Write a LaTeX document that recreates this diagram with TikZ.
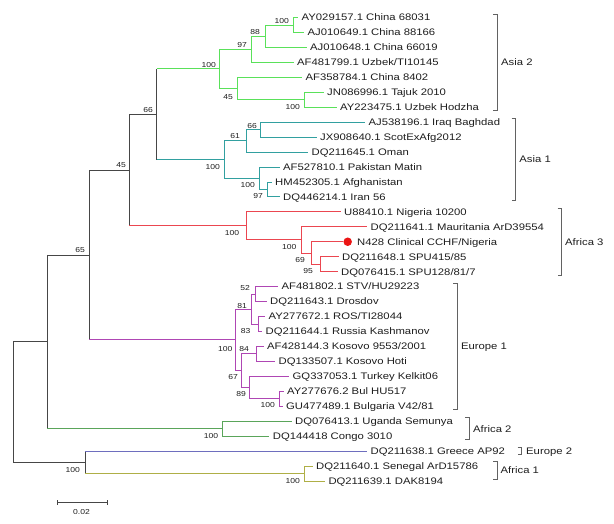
\documentclass[tikz,border=0pt]{standalone}
\usepackage{fontspec}
\setmainfont{Liberation Sans}[FakeStretch=1.19]
\definecolor{cbb}{RGB}{70,70,70}
\definecolor{txt}{RGB}{30,30,30}
\definecolor{ca2}{RGB}{90,225,90}
\definecolor{ca1}{RGB}{50,160,160}
\definecolor{caf3}{RGB}{235,70,80}
\definecolor{ceu1}{RGB}{175,70,180}
\definecolor{caf2}{RGB}{90,165,90}
\definecolor{ceu2}{RGB}{110,110,190}
\definecolor{caf1}{RGB}{175,175,70}
\definecolor{dotred}{RGB}{235,20,20}
\begin{document}
\begin{tikzpicture}[x=1pt,y=-1pt,
  leaf/.style={anchor=west, inner sep=0pt, font=\fontsize{9.5}{10}\selectfont, text height=6.8pt, text depth=0pt, text=txt},
  bs/.style={anchor=east, inner sep=0pt, font=\fontsize{7.2}{8}\selectfont, text height=5.2pt, text depth=0pt, text=txt},
  ln/.style={line width=0.8pt},
  bbl/.style={ln, draw=cbb},
  a2/.style={ln, draw=ca2},
  a1/.style={ln, draw=ca1},
  f3/.style={ln, draw=caf3},
  e1/.style={ln, draw=ceu1},
  f2/.style={ln, draw=caf2},
  e2/.style={ln, draw=ceu2},
  f1/.style={ln, draw=caf1},
  brk/.style={line width=0.8pt, draw=cbb!85}
]
\useasboundingbox (0,0) rectangle (614,524);

% ---------- leaves ----------
\node[leaf] (l0) at (301.5,17.5) {AY029157.1 China 68031};
\node[leaf] (l1) at (307.5,32.45) {AJ010649.1 China 88166};
\node[leaf] (l2) at (310,47.4) {AJ010648.1 China 66019};
\node[leaf] (l3) at (297,62.35) {AF481799.1 Uzbek/TI10145};
\node[leaf] (l4) at (305.5,77.3) {AF358784.1 China 8402};
\node[leaf] (l5) at (327,92.25) {JN086996.1 Tajuk 2010};
\node[leaf] (l6) at (340,107.2) {AY223475.1 Uzbek Hodzha};
\node[leaf] (l7) at (368.5,122.15) {AJ538196.1 Iraq Baghdad};
\node[leaf] (l8) at (320,137.1) {JX908640.1 ScotExAfg2012};
\node[leaf] (l9) at (311.5,152.05) {DQ211645.1 Oman};
\node[leaf] (l10) at (283,167) {AF527810.1 Pakistan Matin};
\node[leaf] (l11) at (275,181.95) {HM452305.1 Afghanistan};
\node[leaf] (l12) at (283,196.9) {DQ446214.1 Iran 56};
\node[leaf] (l13) at (344,211.85) {U88410.1 Nigeria 10200};
\node[leaf] (l14) at (370.5,226.8) {DQ211641.1 Mauritania ArD39554};
\node[leaf] (l15) at (357,241.75) {N428 Clinical CCHF/Nigeria};
\node[leaf] (l16) at (342,256.7) {DQ211648.1 SPU415/85};
\node[leaf] (l17) at (341,271.65) {DQ076415.1 SPU128/81/7};
\node[leaf] (l18) at (281.5,286.6) {AF481802.1 STV/HU29223};
\node[leaf] (l19) at (270,301.55) {DQ211643.1 Drosdov};
\node[leaf] (l20) at (268.5,316.5) {AY277672.1 ROS/TI28044};
\node[leaf] (l21) at (265.5,331.45) {DQ211644.1 Russia Kashmanov};
\node[leaf] (l22) at (267,346.4) {AF428144.3 Kosovo 9553/2001};
\node[leaf] (l23) at (278.5,361.35) {DQ133507.1 Kosovo Hoti};
\node[leaf] (l24) at (292.5,376.3) {GQ337053.1 Turkey Kelkit06};
\node[leaf] (l25) at (287,391.25) {AY277676.2 Bul HU517};
\node[leaf] (l26) at (286,406.2) {GU477489.1 Bulgaria V42/81};
\node[leaf] (l27) at (295,421.15) {DQ076413.1 Uganda Semunya};
\node[leaf] (l28) at (272.7,436.1) {DQ144418 Congo 3010};
\node[leaf] (l29) at (370.5,451.05) {DQ211638.1 Greece AP92};
\node[leaf] (l30) at (316,466) {DQ211640.1 Senegal ArD15786};
\node[leaf] (l31) at (328.3,480.95) {DQ211639.1 DAK8194};

\node[circle, fill=dotred, inner sep=0pt, minimum size=8.5pt] (dot) at (347.7,241.75) {};

% ---------- internal nodes ----------
\coordinate (nA) at (293,24.975);
\coordinate (n88) at (265,36.19);
\coordinate (n97) at (251.7,49.27);
\coordinate (nC) at (304,99.73);
\coordinate (n45b) at (237,88.51);
\coordinate (nAsia2) at (219,68.89);
\coordinate (n66a) at (260.7,129.63);
\coordinate (n61) at (246,140.84);
\coordinate (n97b) at (267.3,189.43);
\coordinate (n100d) at (259.3,178.21);
\coordinate (nAsia1) at (224,159.53);
\coordinate (n66t) at (156.7,114.21);
\coordinate (n95) at (320,264.18);
\coordinate (n69) at (311,252.96);
\coordinate (n100e) at (301.7,239.88);
\coordinate (nAfr3) at (246.7,225.87);
\coordinate (n45t) at (129.3,170.04);
\coordinate (n52) at (255,294.08);
\coordinate (n83) at (258.5,323.98);
\coordinate (n81) at (251.5,309.03);
\coordinate (n84) at (256,353.88);
\coordinate (n100f) at (279.5,398.73);
\coordinate (n89) at (249.5,387.51);
\coordinate (n67) at (241,370.70);
\coordinate (nEur1) at (235,339.87);
\coordinate (n65) at (89.3,254.96);
\coordinate (n100g) at (222.7,428.63);
\coordinate (nU) at (47.3,341.79);
\coordinate (n100h) at (304,473.48);
\coordinate (nE) at (85,462.26);
\coordinate (nR) at (13.3,402.03);

% ---------- Asia 2 ----------
\draw[a2] (nA) |- ([xshift=-3.5pt]l0.west);
\draw[a2] (nA) |- ([xshift=-3.5pt]l1.west);
\draw[a2] (n88) |- (nA);
\draw[a2] (n88) |- ([xshift=-3.5pt]l2.west);
\draw[a2] (n97) |- (n88);
\draw[a2] (n97) |- ([xshift=-3.5pt]l3.west);
\draw[a2] (nC) |- ([xshift=-3.5pt]l5.west);
\draw[a2] (nC) |- ([xshift=-3.5pt]l6.west);
\draw[a2] (n45b) |- ([xshift=-3.5pt]l4.west);
\draw[a2] (n45b) |- (nC);
\draw[a2] (nAsia2) |- (n97);
\draw[a2] (nAsia2) |- (n45b);
% ---------- Asia 1 ----------
\draw[a1] (n66a) |- ([xshift=-3.5pt]l7.west);
\draw[a1] (n66a) |- ([xshift=-3.5pt]l8.west);
\draw[a1] (n61) |- (n66a);
\draw[a1] (n61) |- ([xshift=-3.5pt]l9.west);
\draw[a1] (n97b) |- ([xshift=-3.5pt]l11.west);
\draw[a1] (n97b) |- ([xshift=-3.5pt]l12.west);
\draw[a1] (n100d) |- ([xshift=-3.5pt]l10.west);
\draw[a1] (n100d) |- (n97b);
\draw[a1] (nAsia1) |- (n61);
\draw[a1] (nAsia1) |- (n100d);
% backbone node 66
\draw[bbl] (n66t |- nAsia2) -- (n66t |- nAsia1);
\draw[a2] (n66t |- nAsia2) -- (nAsia2);
\draw[a1] (n66t |- nAsia1) -- (nAsia1);
% ---------- Africa 3 ----------
\draw[f3] (n95) |- ([xshift=-3.5pt]l16.west);
\draw[f3] (n95) |- ([xshift=-3.5pt]l17.west);
\draw[f3] (n69) |- (dot.west);
\draw[f3] (n69) |- (n95);
\draw[f3] (n100e) |- ([xshift=-3.5pt]l14.west);
\draw[f3] (n100e) |- (n69);
\draw[f3] (nAfr3) |- ([xshift=-3.5pt]l13.west);
\draw[f3] (nAfr3) |- (n100e);
% backbone node 45
\draw[bbl] (n45t |- n66t) -- (n45t |- nAfr3);
\draw[bbl] (n45t |- n66t) -- (n66t);
\draw[f3] (n45t |- nAfr3) -- (nAfr3);
% ---------- Europe 1 ----------
\draw[e1] (n52) |- ([xshift=-3.5pt]l18.west);
\draw[e1] (n52) |- ([xshift=-3.5pt]l19.west);
\draw[e1] (n83) |- ([xshift=-3.5pt]l20.west);
\draw[e1] (n83) |- ([xshift=-3.5pt]l21.west);
\draw[e1] (n81) |- (n52);
\draw[e1] (n81) |- (n83);
\draw[e1] (n84) |- ([xshift=-3.5pt]l22.west);
\draw[e1] (n84) |- ([xshift=-3.5pt]l23.west);
\draw[e1] (n100f) |- ([xshift=-3.5pt]l25.west);
\draw[e1] (n100f) |- ([xshift=-3.5pt]l26.west);
\draw[e1] (n89) |- ([xshift=-3.5pt]l24.west);
\draw[e1] (n89) |- (n100f);
\draw[e1] (n67) |- (n84);
\draw[e1] (n67) |- (n89);
\draw[e1] (nEur1) |- (n81);
\draw[e1] (nEur1) |- (n67);
% backbone node 65
\draw[bbl] (n65 |- n45t) -- (n65 |- nEur1);
\draw[bbl] (n65 |- n45t) -- (n45t);
\draw[e1] (n65 |- nEur1) -- (nEur1);
% ---------- Africa 2 ----------
\draw[f2] (n100g) |- ([xshift=-3.5pt]l27.west);
\draw[f2] (n100g) |- ([xshift=-3.5pt]l28.west);
\draw[bbl] (nU |- n65) -- (nU |- n100g);
\draw[bbl] (nU |- n65) -- (n65);
\draw[f2] (nU |- n100g) -- (n100g);
% ---------- Europe 2 / Africa 1 ----------
\draw[f1] (n100h) |- ([xshift=-3.5pt]l30.west);
\draw[f1] (n100h) |- ([xshift=-3.5pt]l31.west);
\draw[bbl] (nE |- l29.west) -- (nE |- n100h);
\draw[e2] (nE |- l29.west) -- ([xshift=-3.5pt]l29.west);
\draw[f1] (nE |- n100h) -- (n100h);
% ---------- root ----------
\draw[bbl] (nR |- nU) -- (nR |- nE);
\draw[bbl] (nR |- nU) -- (nU);
\draw[bbl] (nR |- nE) -- (nE);

% ---------- bootstrap values ----------
\node[bs] (b1) at (289,21) {100};
\node[bs] (b2) at (260,31.7) {88};
\node[bs] (b3) at (247,45) {97};
\node[bs] (b4) at (216,65) {100};
\node[bs] (b5) at (233,96.7) {45};
\node[bs] (b6) at (300,107.3) {100};
\node[bs] (b7) at (153,110) {66};
\node[bs] (b8) at (126,165) {45};
\node[bs] (b9) at (85,250) {65};
\node[bs] (b10) at (257,126) {66};
\node[bs] (b11) at (240,136) {61};
\node[bs] (b12) at (220,166.7) {100};
\node[bs] (b13) at (255,185) {100};
\node[bs] (b14) at (263,195.7) {97};
\node[bs] (b15) at (239.3,233.3) {100};
\node[bs] (b16) at (296.7,246.7) {100};
\node[bs] (b17) at (305,260) {69};
\node[bs] (b18) at (313,270.7) {95};
\node[bs] (b19) at (250,288) {52};
\node[bs] (b20) at (247,306) {81};
\node[bs] (b21) at (250.7,330.7) {83};
\node[bs] (b22) at (232.7,348.7) {100};
\node[bs] (b23) at (249,348.7) {84};
\node[bs] (b24) at (238,377.3) {67};
\node[bs] (b25) at (246,394) {89};
\node[bs] (b26) at (275,405) {100};
\node[bs] (b27) at (218.3,436) {100};
\node[bs] (b28) at (80,470) {100};
\node[bs] (b29) at (300,481) {100};

% ---------- clade brackets ----------
\draw[brk] (493.3,14) -- (497.3,14) -- (497.3,110.7) -- (493.3,110.7);
\node[leaf] (c1) at (501,62.3) {Asia 2};
\draw[brk] (511.7,118.7) -- (515.7,118.7) -- (515.7,200.4) -- (511.7,200.4);
\node[leaf] (c2) at (519.2,159.5) {Asia 1};
\draw[brk] (557.7,208.3) -- (561.7,208.3) -- (561.7,275.1) -- (557.7,275.1);
\node[leaf] (c3) at (565,241.7) {Africa 3};
\draw[brk] (453.3,283.1) -- (457.3,283.1) -- (457.3,409.7) -- (453.3,409.7);
\node[leaf] (c4) at (460.8,346.4) {Europe 1};
\draw[brk] (465.3,417.6) -- (469.3,417.6) -- (469.3,439.6) -- (465.3,439.6);
\node[leaf] (c5) at (473,428.6) {Africa 2};
\draw[brk] (517.7,447.5) -- (521.7,447.5) -- (521.7,454.6) -- (517.7,454.6);
\node[leaf] (c6) at (526,451.05) {Europe 2};
\draw[brk] (493.3,461) -- (497.3,461) -- (497.3,479) -- (493.3,479);
\node[leaf] (c7) at (500.5,470) {Africa 1};

% ---------- scale bar ----------
\coordinate (sbL) at (57.3,502.7);
\coordinate (sbR) at (107.3,502.7);
\draw[bbl] (sbL) -- (sbR);
\draw[bbl] ([yshift=2.5pt]sbL) -- ([yshift=-2.5pt]sbL);
\draw[bbl] ([yshift=2.5pt]sbR) -- ([yshift=-2.5pt]sbR);
\node[bs, anchor=center] (sbt) at (81.5,511.5) {0.02};
\end{tikzpicture}
\end{document}
